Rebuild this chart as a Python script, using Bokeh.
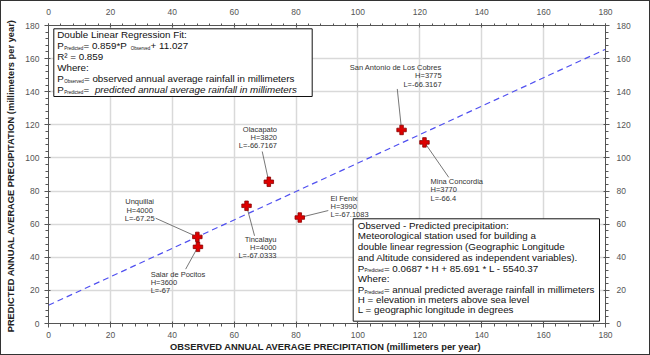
from bokeh.plotting import figure
from bokeh.models import ColumnDataSource, LinearAxis, SingleIntervalTicker, Range1d
from bokeh.layouts import column
from bokeh.embed import file_html
from bokeh.resources import INLINE
from bokeh.core.properties import value

# ---------------- data ----------------
stations = ["Unquillai", "Salar de Pocitos", "Tincalayu", "Olacapato",
            "El Fenix", "San Antonio de Los Cobres", "Mina Concordia"]
observed = [48.1, 48.3, 64.0, 71.2, 81.2, 114.1, 121.5]
predicted = [52.3, 46.3, 71.1, 85.6, 64.0, 116.9, 109.4]
elev_h = [4000, 3600, 4000, 3820, 3990, 3775, 3770]
lon_l = ["-67.25", "-67", "-67.0333", "-66.7167", "-67.1083", "-66.3167", "-66.4"]
fit_slope = 0.859
fit_intercept = 11.027
fit_r2 = 0.859
axis_min, axis_max, axis_step = 0, 180, 20

# ---------------- layout (reference pixel frame) ----------------
FL, FT, FW, FH = 48, 25, 557, 298
PW, PH = 648, 353


def X(px):
    return (px - FL) / FW * (axis_max - axis_min) + axis_min


def Y(py):
    return (FT + FH - py) / FH * (axis_max - axis_min) + axis_min


def DX(d):
    return d / FW * (axis_max - axis_min)


def DY(d):
    return d / FH * (axis_max - axis_min)


# Arial / Liberation Sans advance widths (1/1000 em)
W = {' ': 278, '!': 278, '(': 333, ')': 333, '*': 389, '+': 584, ',': 278, '-': 333,
     '.': 278, '/': 278, ':': 278, '=': 584, '²': 333,
     'A': 667, 'B': 667, 'C': 722, 'D': 722, 'E': 667, 'F': 611, 'G': 778, 'H': 722,
     'I': 278, 'J': 500, 'K': 667, 'L': 556, 'M': 833, 'N': 722, 'O': 778, 'P': 667,
     'Q': 778, 'R': 722, 'S': 667, 'T': 611, 'U': 722, 'V': 667, 'W': 944, 'X': 667,
     'Y': 667, 'Z': 611,
     'a': 556, 'b': 556, 'c': 500, 'd': 556, 'e': 556, 'f': 278, 'g': 556, 'h': 556,
     'i': 222, 'j': 222, 'k': 500, 'l': 222, 'm': 833, 'n': 556, 'o': 556, 'p': 556,
     'q': 556, 'r': 333, 's': 500, 't': 278, 'u': 556, 'v': 500, 'w': 722, 'x': 500,
     'y': 500, 'z': 500}


def tw(s, size):
    return sum(W.get(c, 556) for c in s) * size / 1000.0


p = figure(width=PW, height=PH,
           x_range=Range1d(axis_min, axis_max), y_range=Range1d(axis_min, axis_max),
           output_backend="svg", toolbar_location=None,
           min_border_left=FL - 1, min_border_top=FT - 1,
           min_border_right=PW - (FL - 1) - FW, min_border_bottom=PH - (FT - 1) - FH)
p.outline_line_color = None
p.background_fill_color = "white"
p.border_fill_color = "white"

bottom_axis = p.below[0]
left_axis = p.left[0]
top_axis = LinearAxis()
right_axis = LinearAxis()
p.add_layout(top_axis, "above")
p.add_layout(right_axis, "right")

for ax in [bottom_axis, left_axis, top_axis, right_axis]:
    ax.ticker = SingleIntervalTicker(interval=axis_step, num_minor_ticks=5)
    ax.axis_line_color = "#555555"
    ax.major_tick_line_color = "#555555"
    ax.minor_tick_line_color = "#555555"
    ax.major_label_text_font = "Liberation Sans"
    ax.major_label_text_font_size = "8.5px"
    ax.major_label_text_color = "#555555"
    ax.major_tick_in = 2
    ax.major_tick_out = 4
    ax.minor_tick_in = 0
    ax.minor_tick_out = 3

bottom_axis.major_label_standoff = 4
left_axis.major_label_standoff = 5
top_axis.major_label_standoff = 9
top_axis.major_tick_out = 2
top_axis.minor_tick_out = 2
right_axis.major_label_standoff = 7

bottom_axis.axis_label = "OBSERVED ANNUAL AVERAGE PRECIPITATION  (millimeters per year)"
left_axis.axis_label = "PREDICTED ANNUAL AVERAGE PRECIPITATION  (millimeters per year)"
for ax in [bottom_axis, left_axis]:
    ax.axis_label_text_font = "Liberation Sans"
    ax.axis_label_text_font_style = "bold"
    ax.axis_label_text_font_size = "9.3px"
    ax.axis_label_text_color = "#222222"
bottom_axis.axis_label_standoff = 1
left_axis.axis_label_standoff = 6

for g in [p.xgrid[0], p.ygrid[0]]:
    g.ticker = SingleIntervalTicker(interval=axis_step)
    g.grid_line_color = "#d9d9d9"
    g.grid_line_width = 1.5

# regression line
fx = [axis_min, axis_max]
fy = [fit_slope * v + fit_intercept for v in fx]
p.line(fx, fy, line_color="#5050f0", line_width=1.2, line_dash="6 4")

# leaders and labels
label_dx = [-57.7, -47.3, 30, 8.2, 30.7, 40, 6]
label_top = [-39.5, 23.0, 29.0, -57.0, -23.6, -67.0, 34.8]
label_align = ["center", "left", "right", "right", "left", "right", "left"]
leader_dx = [-41.7, -12.3, 8, -6.6, 28.5, -4.3, 24.3]
leader_dy = [-18.7, 22.3, 30, -30.3, -7.0, -41, 35]

src = ColumnDataSource(dict(
    x=observed, y=predicted,
    x1=[o + DX(d) for o, d in zip(observed, leader_dx)],
    y1=[q - DY(d) for q, d in zip(predicted, leader_dy)],
    txt=[f"{n}\nH={h}\nL={l}" for n, h, l in zip(stations, elev_h, lon_l)],
    dx=label_dx, dy=label_top, align=label_align))

p.segment("x", "y", "x1", "y1", source=src, line_color="#777777", line_width=1)
p.text("x", "y", text="txt", x_offset="dx", y_offset="dy", text_align="align",
       text_baseline="top", text_font=value("Liberation Sans"), text_font_size="7.5px",
       text_color="#333333", text_line_height=0.92, source=src)

p.scatter("x", "y", marker="plus", size=9.5, fill_color="#dd0000",
          line_color="#8a0000", line_width=0.8, source=src)

# ---------------- text boxes ----------------
seg_rows = {"n": dict(x=[], y=[], t=[]), "s": dict(x=[], y=[], t=[]), "i": dict(x=[], y=[], t=[])}


def add_box(left, top, right, bottom, text_left, centers, lines, fs, sfs):
    p.quad(left=[X(left)], right=[X(right)], top=[Y(top)], bottom=[Y(bottom)],
           fill_color="white", line_color="#111111", line_width=1)
    for cy, segs in zip(centers, lines):
        x = text_left
        for s, kind in segs:
            if kind == "s":
                seg_rows["s"]["x"].append(X(x + 0.3))
                seg_rows["s"]["y"].append(Y(cy + 2.6))
                seg_rows["s"]["t"].append(s)
                x += tw(s, sfs) + 0.6
            else:
                seg_rows[kind]["x"].append(X(x))
                seg_rows[kind]["y"].append(Y(cy))
                seg_rows[kind]["t"].append(s)
                x += tw(s, fs)


box1_lines = [
    [("Double Linear Regression Fit:", "n")],
    [("P", "n"), ("Predicted", "s"), (f" = {fit_slope}*P", "n"), ("Observed", "s"),
     (f"+ {fit_intercept}", "n")],
    [(f"R² = {fit_r2}", "n")],
    [("Where:", "n")],
    [("P", "n"), ("Observed", "s"), (" = observed annual average rainfall in millimeters", "n")],
    [("P", "n"), ("Predicted", "s"), (" = ", "n"),
     ("predicted annual average rainfall in millimeters", "i")],
]
add_box(53.3, 28.3, 311.7, 96, 56.7, [34.3, 45, 56, 66.7, 78.3, 89.3], box1_lines, 10, 4.5)

box2_lines = [
    [("Observed - Predicted precipitation:", "n")],
    [("Meteorological station used for building a", "n")],
    [("double linear regression (Geographic Longitude", "n")],
    [("and Altitude considered as independent variables).", "n")],
    [("P", "n"), ("Predicted", "s"), (" = 0.0687 * H + 85.691 * L - 5540.37", "n")],
    [("Where:", "n")],
    [("P", "n"), ("Predicted", "s"), (" = annual predicted average rainfall in millimeters", "n")],
    [("H = elevation in meters above sea level", "n")],
    [("L = geographic longitude in degrees", "n")],
]
add_box(352.7, 218.3, 599, 320.7, 357.3,
        [225, 235, 245.7, 256.7, 267.7, 278.3, 289.3, 299.3, 309.3], box2_lines, 9.7, 4.5)

p.text(x=seg_rows["n"]["x"], y=seg_rows["n"]["y"], text=seg_rows["n"]["t"],
       text_font=value("Liberation Sans"), text_font_size="9.8px", text_baseline="middle",
       text_color="#111111")
p.text(x=seg_rows["i"]["x"], y=seg_rows["i"]["y"], text=seg_rows["i"]["t"],
       text_font=value("Liberation Sans"), text_font_size="9.8px", text_baseline="middle",
       text_font_style="italic", text_color="#111111")
p.text(x=seg_rows["s"]["x"], y=seg_rows["s"]["y"], text=seg_rows["s"]["t"],
       text_font=value("Liberation Sans"), text_font_size="4.5px", text_baseline="middle",
       text_color="#111111")

layout = column(p, styles={"border": "1px solid #333333"})
open("out.html", "w").write(file_html(layout, INLINE))
